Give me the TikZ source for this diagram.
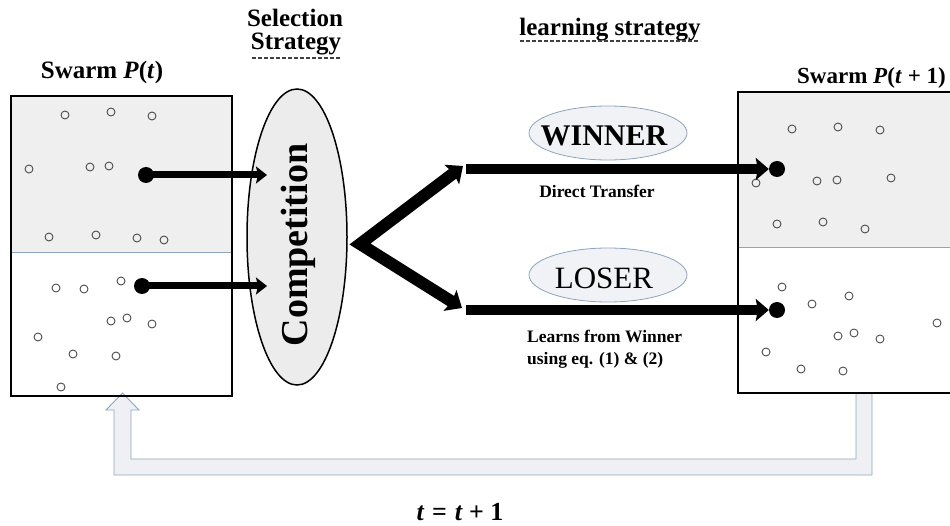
\documentclass[tikz,border=0pt]{standalone}
\usepackage{fontspec}
\setmainfont{Liberation Serif}
\usetikzlibrary{arrows.meta,shapes.geometric}
\definecolor{boxgray}{HTML}{EFEFEF}
\definecolor{divblue}{HTML}{8DA3BE}
\definecolor{ellfill}{HTML}{F1F2F6}
\definecolor{fbfill}{HTML}{EEF0F4}
\definecolor{fbline}{HTML}{8FA6C2}
\definecolor{compfill}{HTML}{ECECEC}
\begin{document}
\begin{tikzpicture}[x=1pt,y=-1pt,
  particle/.style={circle,draw=black!70,line width=0.9pt,minimum size=8pt,inner sep=0pt},
  bestdot/.style={circle,fill=black,minimum size=16pt,inner sep=0pt},
  fatarrow/.style={line width=7pt,-{Stealth[length=11pt,width=17pt,inset=2pt]}},
  branch/.style={line width=12pt,line join=miter,{Stealth[length=14pt,width=24pt,inset=2pt]}-{Stealth[length=14pt,width=24pt,inset=2pt]}},
  longarrow/.style={line width=10pt,-{Stealth[length=13pt,width=22pt,inset=2pt]}},
  title/.style={font=\bfseries\fontsize{25}{29}\selectfont,inner sep=0pt},
  roleell/.style={ellipse,draw=divblue,line width=0.8pt,fill=ellfill,minimum width=158pt,minimum height=54pt,inner sep=0pt},
  caption/.style={font=\bfseries\fontsize{17.5}{22}\selectfont,inner sep=0pt},
  ]
\useasboundingbox (0,0) rectangle (950,526);

% feedback hollow arrow
\draw[fbline,fill=fbfill,line width=0.9pt,line join=miter]
  (856,393) -- (856,459) -- (131,459) -- (131,410) -- (139,410) -- (122.5,393)
  -- (106,410) -- (114,410) -- (114,475) -- (872,475) -- (872,393) -- cycle;

% left box
\fill[boxgray] (11,96) rectangle (232,252);
\draw[divblue,line width=0.9pt] (11,252) -- (232,252);
\draw[line width=2pt] (11,96) rectangle (232,396);
\node[title] (ltitle) at (102,72) {Swarm \textit{P}(\textit{t})};

% right box
\fill[boxgray] (738,92) rectangle (1000,247);
\draw[divblue,line width=0.9pt] (738,247) -- (1000,247);
\draw[line width=2pt] (738,92) rectangle (1000,393);
\node[title,font=\bfseries\fontsize{23}{27}\selectfont,anchor=west] (rtitle) at (797,78) {Swarm \textit{P}(\textit{t} + 1)};

% particles left
\foreach \x/\y [count=\i] in {65/115,111/112,152/116,29/169,90/167,109/166,49/237,96/235,137/238,164/240,
  56/288,84/289,121/281,111/321,127/318,152/324,38/337,73/354,116/356,61/387}
  \node[particle] (lp\i) at (\x,\y) {};
% particles right
\foreach \x/\y [count=\i] in {792/129,838/127,880/130,756/183,817/181,837/180,891/178,777/224,823/222,865/229,
  782/287,812/304,849/296,838/336,854/333,880/339,937/323,766/352,801/369,843/371}
  \node[particle] (rp\i) at (\x,\y) {};

% best dots
\node[bestdot] (ld1) at (146,175) {};
\node[bestdot] (ld2) at (142,286) {};
\node[bestdot] (rd1) at (777,169) {};
\node[bestdot] (rd2) at (777,310) {};

% competition
\node[ellipse,draw,line width=1.5pt,fill=compfill,minimum width=100pt,minimum height=296pt,inner sep=0pt] (comp) at (297,237) {};
\node[rotate=90,font=\bfseries\fontsize{38}{43}\selectfont,inner sep=0pt] (comptext) at (298,245) {Competition};
\coordinate (cin1) at (267,175);
\coordinate (cin2) at (267,286);
\draw[fatarrow] (ld1.center) -- (cin1);
\draw[fatarrow] (ld2.center) -- (cin2);

% selection strategy title
\node[title] (sel) at (295,18) {Selection};
\node[title] (strat) at (296,44) {Strategy};
\draw[black!75,line width=1.2pt,dash pattern=on 4pt off 2pt] (252,58) -- (340,58);

% learning strategy title
\node[title] (learn) at (610,30) {learning strategy};
\draw[black!75,line width=1.2pt,dash pattern=on 4pt off 2pt] (520,41) -- (700,41);

% branch arrows
\coordinate (vtx) at (360,244);
\coordinate (wtip) at (463,166);
\coordinate (ltip) at (462,308);
\draw[branch] (wtip) -- (vtx) -- (ltip);

% winner / loser
\node[roleell] (win) at (608,133) {};
\node[font=\bfseries\fontsize{30}{34}\selectfont,inner sep=0pt] (wintext) at (604,136) {WINNER};
\node[roleell] (lose) at (608,275) {};
\node[font=\fontsize{31}{35}\selectfont,inner sep=0pt] (losetext) at (604,278) {LOSER};

\coordinate (ws) at (466,169);
\coordinate (ls) at (466,310);
\draw[longarrow] (ws) -- (rd1.west);
\draw[longarrow] (ls) -- (rd2.west);

\node[caption] (direct) at (597,191) {Direct Transfer};
\node[caption,anchor=west,align=left] (learns) at (527,349) {Learns from Winner\\using eq. (1) \& (2)};

% t = t + 1
\node[font=\bfseries\fontsize{26}{30}\selectfont,inner sep=0pt] (tt) at (460,512) {\textit{t}\hspace{0.3em}=\hspace{0.3em}\textit{t}\hspace{0.25em}+\hspace{0.25em}1};
\end{tikzpicture}
\end{document}
